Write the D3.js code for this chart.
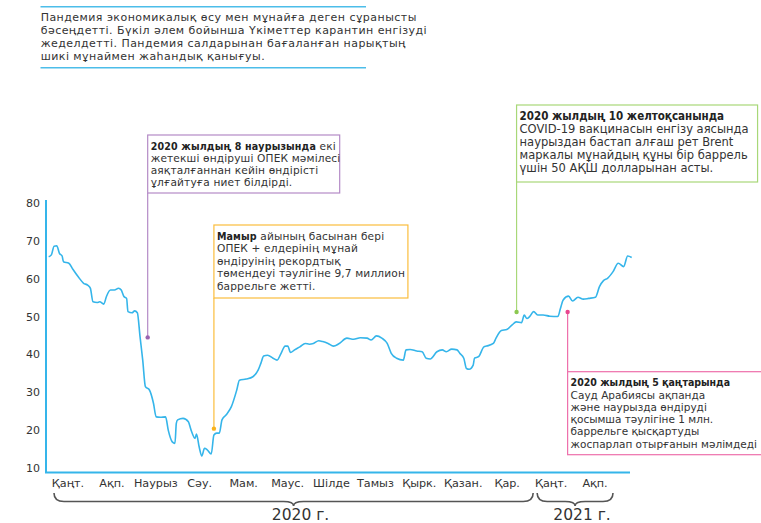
<html>
<head>
<meta charset="utf-8">
<script src="https://d3js.org/d3.v7.min.js"></script>
<style>
body { margin: 0; background: #fff; }
svg { display: block; font-family: 'DejaVu Sans', sans-serif; }
text { fill: #333; }
tspan.b { font-family: 'DejaVu Sans Condensed', 'DejaVu Sans', sans-serif; font-weight: bold; fill: #222; }
</style>
</head>
<body>
<div id="chart"></div>
<script>

var width = 761;
var height = 523;

// days since 1 Jan 2020
var days = [2,4,6,8,10,12,13,17,20,24,
  28,31,33,35,38,40,43,45,48,51,
  54,56,58,60,61,64,66,68,70,72,
  74,77,80,82,85,89,91,94,96,97,
  98,102,106,108,111,112,114,116,118,120,
  123,125,127,129,131,134,138,142,144,149,
  154,158,160,162,165,169,172,175,178,180,
  182,185,189,193,196,199,203,206,210,214,
  218,224,229,234,239,242,246,250,254,257,
  261,266,268,271,276,280,283,286,291,295,
  298,302,306,308,311,313,315,318,319,322,
  326,328,333,335,339,343,347,350,354,356,
  358,360,363,366,370,375,381,383,385,389,
  392,396,400,404,409,412,415,418,422,426,
  430,433,436];

// price, USD per barrel
var prices = [65.8,66.3,68.6,68.7,66.7,66,64.5,64.1,62.5,60.5,
  58.8,58.3,57.5,53.9,53.7,53.9,53.3,55.3,57,57,
  57.5,57,55.3,54.8,51.3,51,51.5,51,44.7,38.5,
  31.5,30.6,27.1,23.5,23.4,23.5,20,16.9,16.5,21.8,
  22.7,23.1,22.2,20,17.8,19,15.6,13.2,15.2,14.8,
  13.7,18.7,19.2,19.2,22.7,24,26.2,30.6,33.2,33.5,
  34.1,35.9,37.7,39.6,39.8,39,38.5,40.3,42.2,42.2,
  40.5,41.2,42,42.9,42.7,42.9,43.6,43.4,42.9,42.2,
  42.8,44.3,44,44.4,44.3,43.8,44.9,44.3,42.9,40.3,
  39,38.5,41.2,41.3,40.9,40.7,39,38.8,40.7,41.2,
  40.7,41.4,41.2,40.3,39,36.3,36.1,37.2,39,39.4,
  42,42.2,42.9,44.3,46.3,46.6,47.8,48.6,48.4,50.4,
  49.5,50,51.3,50.4,50.4,50.1,50,52.2,54.4,55.4,
  54.1,55.1,54.6,54.8,55.1,57.9,59.5,60.1,61.8,64.1,
  63.2,66,65.6];

var yTicks = [10, 20, 30, 40, 50, 60, 70, 80];
var months = ["Қаңт.", "Ақп.", "Наурыз", "Сәу.", "Мам.", "Маус.", "Шілде", "Тамыз", "Қырк.", "Қазан.", "Қар.", "Қаңт.", "Ақп."];
var years = [
  { label: "2020 г.", first: 0, last: 10 },
  { label: "2021 г.", first: 11, last: 12 }
];

var titleLines = [
  "Пандемия экономикалық өсу мен мұнайға деген сұранысты",
  "бәсеңдетті. Бүкіл әлем бойынша Үкіметтер карантин енгізуді",
  "жеделдетті. Пандемия салдарынан бағаланған нарықтың",
  "шикі мұнаймен жаһандық қанығуы."
];

var notes = [
  { day: 75.7, value: 44.5, color: "#b48ac6", dot: "#9b64b0",
    box: [135, 192, 58], size: 10.6, ls: 0.15, lh: 12.3, up: true,
    bold: "2020 жылдың 8 наурызында",
    lines: [" екі", "жетекші өндіруші ОПЕК мәмілесі", "аяқталғаннан кейін өндірісті", "ұлғайтуға ниет білдірді."] },
  { day: 125, value: 20.4, color: "#fbbd3c", dot: "#f9b21a",
    box: [225, 194, 73], size: 10.6, ls: 0.15, lh: 12.5, up: true,
    bold: "Мамыр",
    lines: [" айының басынан бері", "ОПЕК + елдерінің мұнай", "өндіруінің рекордтық", "төмендеуі тәулігіне 9,7 миллион", "баррельге жетті."] },
  { day: 350.3, value: 51.2, color: "#a8d878", dot: "#8cc850",
    box: [105, 241, 77], size: 11.5, ls: 0, lh: 13, up: true,
    bold: "2020 жылдың 10 желтоқсанында",
    lines: ["", "COVID-19 вакцинасын енгізу аясында", "наурыздан бастап алғаш рет Brent", "маркалы мұнайдың құны бір баррель", "үшін 50 АҚШ долларынан асты."] },
  { day: 388.3, value: 51.2, color: "#ee6fab", dot: "#e8458f",
    box: [371.7, 200, 83], size: 10.5, ls: 0, lh: 12.3, up: false,
    bold: "2020 жылдың 5 қаңтарында",
    lines: ["", "Сауд Арабиясы ақпанда", "және наурызда өндіруді", "қосымша тәулігіне 1 млн.", "баррельге қысқартуды", "жоспарлап отырғанын мәлімдеді"] }
];

var blue = "#35b5ea";

var svg = d3.select("#chart").append("svg")
  .attr("width", width).attr("height", height);

var x = d3.scaleLinear().domain([0, 436]).range([46, 631.7]);
var y = d3.scaleLinear().domain([10, 80]).range([468, 203]);
var monthX = d3.scaleBand().domain(d3.range(months.length)).range([46, 617]);

// title block
svg.append("line").attr("x1", 40.5).attr("x2", 366).attr("y1", 6.7).attr("y2", 6.7)
  .style("stroke", "#4dbde9").style("stroke-width", 1.5);
svg.append("line").attr("x1", 40.5).attr("x2", 366).attr("y1", 67.7).attr("y2", 67.7)
  .style("stroke", "#4dbde9").style("stroke-width", 1.5);
svg.selectAll("text.title").data(titleLines).enter().append("text")
  .attr("class", "title")
  .attr("x", 40.7).attr("y", function (d, i) { return 20.5 + i * 13.1; })
  .style("font-size", "11px").style("letter-spacing", "0.45px")
  .text(function (d) { return d; });

// axes
var yAxis = d3.axisLeft(y).tickValues(yTicks).tickSize(0).tickPadding(6);
var gy = svg.append("g").attr("transform", "translate(46,0)").call(yAxis);
gy.select(".domain").remove();
gy.selectAll("text").style("font-size", "11px").style("fill", "#333").style("font-family", "'DejaVu Sans', sans-serif");

svg.append("line").attr("x1", 46).attr("x2", 46).attr("y1", 200).attr("y2", 472.5)
  .style("stroke", blue).style("stroke-width", 2);
svg.append("line").attr("x1", 45).attr("x2", 630).attr("y1", 472.5).attr("y2", 472.5)
  .style("stroke", blue).style("stroke-width", 2);

svg.selectAll("text.month").data(months).enter().append("text")
  .attr("class", "month")
  .attr("x", function (d, i) { return monthX(i) + monthX.bandwidth() / 2; })
  .attr("y", 487)
  .attr("text-anchor", "middle")
  .style("font-size", "11.2px")
  .text(function (d) { return d; });

// year braces
function brace(x1, x2, y0, y1, tip) {
  var m = (x1 + x2) / 2, q = 10;
  return "M" + x1 + "," + y0 +
    " Q" + x1 + "," + y1 + " " + (x1 + q) + "," + y1 +
    " L" + (m - q) + "," + y1 +
    " Q" + m + "," + y1 + " " + m + "," + tip +
    " Q" + m + "," + y1 + " " + (m + q) + "," + y1 +
    " L" + (x2 - q) + "," + y1 +
    " Q" + x2 + "," + y1 + " " + x2 + "," + y0;
}
years.forEach(function (yr, i) {
  var x1 = monthX(yr.first) + 8;
  var x2 = monthX(yr.last) + monthX.bandwidth() + (i === 0 ? 4 : -4);
  svg.append("path")
    .attr("d", brace(x1, x2, 493, 501.5, 506))
    .style("fill", "none").style("stroke", "#555").style("stroke-width", 1.6);
  svg.append("text")
    .attr("x", (x1 + x2) / 2 + 7).attr("y", 519.5)
    .attr("text-anchor", "middle")
    .style("font-size", "15.5px")
    .text(yr.label);
});

// price line
var points = days.map(function (d, i) { return [d, prices[i]]; });
var line = d3.line()
  .x(function (d) { return x(d[0]); })
  .y(function (d) { return y(d[1]); })
  .curve(d3.curveMonotoneX);
svg.append("path").datum(points)
  .attr("d", line)
  .style("fill", "none").style("stroke", blue).style("stroke-width", 1.6);

// annotations
notes.forEach(function (n) {
  var mx = x(n.day), my = y(n.value);
  var top = n.box[0], w = n.box[1], h = n.box[2];
  var g = svg.append("g");
  g.append("rect").attr("x", mx).attr("y", top).attr("width", w).attr("height", h)
    .style("fill", "#fff").style("stroke", n.color).style("stroke-width", 1.2);
  g.append("line").attr("x1", mx).attr("x2", mx)
    .attr("y1", n.up ? top + h : top).attr("y2", my)
    .style("stroke", n.color).style("stroke-width", 1.2);
  g.append("circle").attr("cx", mx).attr("cy", my).attr("r", 2.2).style("fill", n.dot);
  var t = g.append("text").attr("x", mx + 3).attr("y", top + 14.5)
    .style("font-size", n.size + "px").style("letter-spacing", n.ls + "px");
  t.append("tspan").attr("class", "b").text(n.bold);
  t.append("tspan").text(n.lines[0]);
  n.lines.slice(1).forEach(function (l, i) {
    g.append("text").attr("x", mx + 3).attr("y", top + 14.5 + (i + 1) * n.lh)
      .style("font-size", n.size + "px").style("letter-spacing", n.ls + "px").text(l);
  });
});

</script>
</body>
</html>
